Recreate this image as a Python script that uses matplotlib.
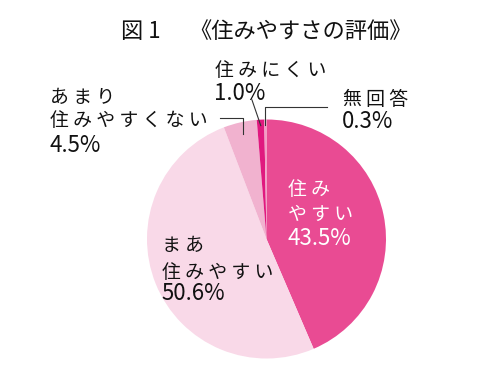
import matplotlib
matplotlib.use('Agg')
import matplotlib.pyplot as plt
import numpy as np

categories = ['住みやすい', 'まあ住みやすい', 'あまり住みやすくない', '住みにくい', '無回答']
values = [43.5, 50.6, 4.5, 1.0, 0.3]
colors = ['#e94b93', '#f9d9e8', '#f1b2cf', '#e0197f', '#f39bc4']
label_lines = [['住み', 'やすい'], ['まあ', '住みやすい'], ['あまり', '住みやすくない'], ['住みにくい'], ['無回答']]
pct_labels = ['43.5%', '50.6%', '4.5%', '1.0%', '0.3%']
title_fig = '図 1'
title_main = '《住みやすさの評価》'

plt.rcParams['font.family'] = ['Noto Sans CJK JP', 'DejaVu Sans']

W, H = 480, 384
fig = plt.figure(figsize=(4.8, 3.84), dpi=100)
ax = fig.add_axes([0, 0, 1, 1])


def Y(py):
    return H - py


def spaced(s):
    return ' '.join(s)


cx, cy_pix, R = 266.5, 239, 119.5
wedges, _ = ax.pie(values, colors=colors, startangle=90, counterclock=False,
                   center=(cx, Y(cy_pix)), radius=R,
                   wedgeprops=dict(linewidth=0))
ax.set_xlim(0, W)
ax.set_ylim(0, H)
ax.set_aspect('equal', adjustable='box')
ax.axis('off')

# wedge mid angles (clockwise from top, degrees)
total = sum(values)
cum = np.cumsum([0] + values[:-1])
mids = [(c + v / 2) / total * 360 for c, v in zip(cum, values)]


def edge_point(i, frac):
    th = np.deg2rad(mids[i])
    return cx + frac * R * np.sin(th), cy_pix - frac * R * np.cos(th)


fs = 13.6
fp = 16.0
dark = '#111111'
# Title
ax.text(121, Y(38), title_fig, fontsize=16, color=dark, ha='left', va='baseline')
ax.text(189, Y(38), title_main, fontsize=16, color=dark, ha='left', va='baseline')

# 住みやすい (inside, white)
ax.text(288, Y(195), spaced(label_lines[0][0]), fontsize=fs, color='white', va='baseline')
ax.text(288, Y(220), spaced(label_lines[0][1]), fontsize=fs, color='white', va='baseline')
ax.text(287, Y(245), pct_labels[0], fontsize=fp, color='white', va='baseline')

# まあ住みやすい (inside, dark)
ax.text(162, Y(251), spaced(label_lines[1][0]), fontsize=fs, color=dark, va='baseline')
ax.text(162, Y(278), spaced(label_lines[1][1]), fontsize=fs, color=dark, va='baseline')
ax.text(161, Y(300), pct_labels[1], fontsize=fp, color=dark, va='baseline')

# あまり住みやすくない
ax.text(50, Y(103), spaced(label_lines[2][0]), fontsize=fs, color=dark, va='baseline')
ax.text(50, Y(126), spaced(label_lines[2][1]), fontsize=fs, color=dark, va='baseline')
ax.text(49, Y(152), pct_labels[2], fontsize=fp, color=dark, va='baseline')

# 住みにくい
ax.text(215, Y(76), spaced(label_lines[3][0]), fontsize=fs, color=dark, va='baseline')
ax.text(214, Y(100), pct_labels[3], fontsize=fp, color=dark, va='baseline')

# 無回答
ax.text(343, Y(105), spaced(label_lines[4][0]), fontsize=fs, color=dark, va='baseline')
ax.text(342, Y(128), pct_labels[4], fontsize=fp, color=dark, va='baseline')

lc = dict(color='#333333', lw=0.8)
# leader: あまり
px, py = edge_point(2, 0.9)
ax.plot([220, px, px], [Y(118), Y(118), Y(py)], **lc)
# leader: 住みにくい
px, py = edge_point(3, 0.95)
ax.plot([252, px], [Y(100), Y(py)], **lc)
# leader: 無回答
px, py = edge_point(4, 0.95)
ax.plot([327, px, px], [Y(107), Y(107), Y(py)], **lc)

fig.savefig('out.png', dpi=100, facecolor='white')
